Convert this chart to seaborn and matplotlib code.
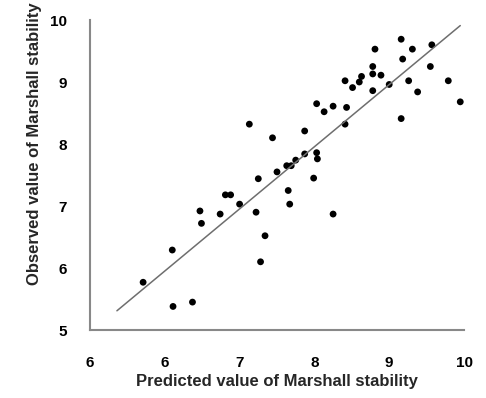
import matplotlib
matplotlib.use("Agg")
import matplotlib.pyplot as plt
import seaborn as sns
import pandas as pd

# Predicted vs. observed Marshall stability
predicted = [9.16, 8.81, 9.31, 9.57, 9.18, 8.78, 9.55, 8.78, 8.89, 8.63,
             8.60, 8.41, 8.51, 9.00, 9.26, 9.79, 8.78, 9.38, 9.95, 8.03,
             8.25, 8.13, 8.43, 9.16, 7.13, 8.41, 7.44, 7.87, 7.87, 8.03,
             8.04, 7.75, 7.50, 7.63, 7.69, 7.25, 7.99, 7.65, 6.81, 6.88,
             7.00, 6.47, 6.74, 7.22, 6.49, 7.67, 8.25, 7.34, 7.28, 6.10,
             5.71, 6.11, 6.37]
observed = [9.69, 9.53, 9.53, 9.60, 9.37, 9.25, 9.25, 9.13, 9.11, 9.09,
            9.00, 9.02, 8.91, 8.96, 9.02, 9.02, 8.86, 8.84, 8.68, 8.65,
            8.61, 8.52, 8.59, 8.41, 8.32, 8.32, 8.10, 8.21, 7.84, 7.86,
            7.76, 7.74, 7.55, 7.65, 7.65, 7.44, 7.45, 7.25, 7.18, 7.18,
            7.03, 6.92, 6.87, 6.90, 6.72, 7.03, 6.87, 6.52, 6.10, 6.29,
            5.77, 5.38, 5.45]

# Trend line end points
trend_x = [5.36, 9.95]
trend_y = [5.31, 9.91]

x_ticks = [5, 6, 7, 8, 9, 10]
x_tick_labels = ["6", "6", "7", "8", "9", "10"]
y_ticks = [5, 6, 7, 8, 9, 10]

df = pd.DataFrame({"pred": predicted, "obs": observed})
trend = pd.DataFrame({"x": trend_x, "y": trend_y})

sns.set_style("white")
plt.rcParams["font.family"] = ["Liberation Sans", "DejaVu Sans"]

fig = plt.figure(figsize=(4.86, 3.98), dpi=100)
ax = fig.add_axes([90 / 486, 68 / 398, 374 / 486, 310 / 398])

sns.lineplot(data=trend, x="x", y="y", ax=ax, color="#6e6e6e", linewidth=1.1)
sns.scatterplot(data=df, x="pred", y="obs", ax=ax, color="black", s=24,
                edgecolor="none", marker="o")

ax.set_xlim(5, 10)
ax.set_ylim(5, 10)
ax.set_xticks(x_ticks)
ax.set_xticklabels(x_tick_labels)
ax.set_yticks(y_ticks)

for side in ["top", "right"]:
    ax.spines[side].set_visible(False)
for side in ["left", "bottom"]:
    ax.spines[side].set_color("#888888")
    ax.spines[side].set_linewidth(1.5)

ax.tick_params(axis="y", direction="out", length=6.5, width=1.3,
               color="#888888", pad=10, labelsize=11)
ax.tick_params(axis="x", direction="out", length=4.5, width=1.3,
               color="#888888", pad=14, labelsize=11)
# only some of the x positions carry a tick mark
for i, t in enumerate(ax.xaxis.get_major_ticks()):
    if x_ticks[i] in (6, 9):
        t.tick1line.set_visible(False)

for lab in ax.get_xticklabels() + ax.get_yticklabels():
    lab.set_fontweight("bold")
    lab.set_color("black")

ax.set_xlabel("Predicted value of Marshall stability", fontsize=12,
              fontweight="bold", labelpad=3)
ax.set_ylabel("Observed value of Marshall stability", fontsize=12,
              fontweight="bold")
ax.yaxis.set_label_coords(-0.128, 0.60)

fig.savefig("out.png", dpi=100)
